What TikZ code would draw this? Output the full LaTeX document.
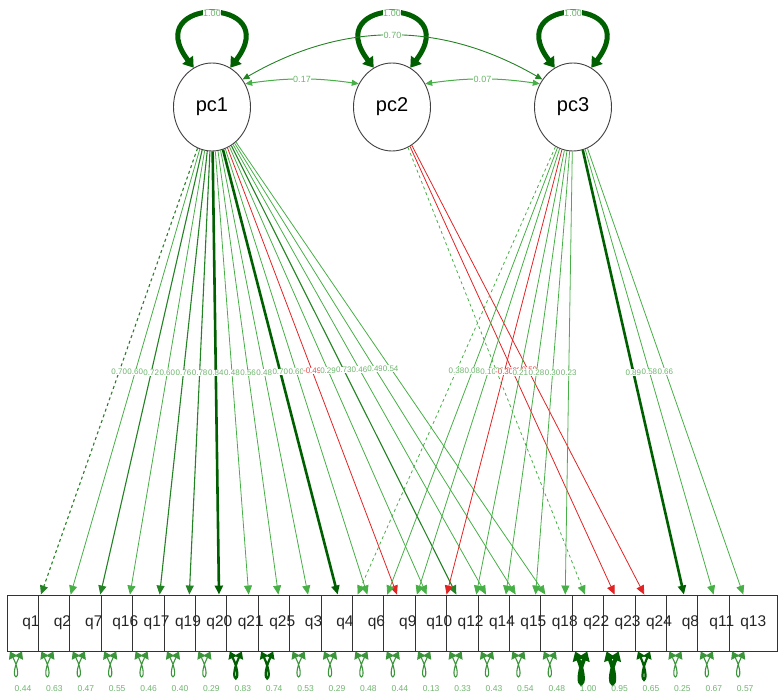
\documentclass[tikz,border=0pt]{standalone}
\usepackage{fontspec}
\setmainfont{Liberation Sans}
\usetikzlibrary{arrows.meta,shapes.geometric}
\definecolor{lgreen}{RGB}{70,175,70}
\definecolor{mgreen}{RGB}{35,130,35}
\definecolor{dgreen}{RGB}{0,95,0}
\definecolor{pgreen}{RGB}{110,180,110}
\definecolor{nred}{RGB}{225,35,35}
\tikzset{
  latent/.style={ellipse,draw=black!75,fill=white,line width=0.9pt,minimum width=77pt,minimum height=88pt,inner sep=0pt,font=\fontsize{20}{22}\selectfont},
  manifest/.style={rectangle,draw=black!80,fill=white,line width=0.9pt,minimum width=48pt,minimum height=56pt,inner sep=0pt},
  mlabel/.style={font=\fontsize{15.5}{17}\selectfont,text=black!85},
  tip/.style={-{Triangle[length=9pt,width=8pt]}},
  load/.style={tip,lgreen,line width=0.8pt},
  loadmid/.style={tip,mgreen,line width=1.1pt},
  loadbig/.style={tip,dgreen,line width=2.6pt},
  loadneg/.style={tip,nred,line width=0.8pt},
  loadfix/.style={loadmid,dashed},
  loadfixl/.style={load,dashed},
  lbl/.style={fill=white,inner sep=0.4pt,text=pgreen,font=\fontsize{8}{8}\selectfont},
  lblneg/.style={lbl,text=nred!80},
  clbl/.style={lbl,font=\fontsize{9}{9}\selectfont},
  varloop/.style={{Triangle[length=10pt,width=13pt]}-{Triangle[length=10pt,width=13pt]},dgreen,line width=5pt},
  covl/.style={{Triangle[length=7pt,width=6pt]}-{Triangle[length=7pt,width=6pt]},lgreen,line width=1pt},
  covd/.style={covl,mgreen,line width=0.9pt},
  res/.style={{Triangle[length=7pt,width=9pt]}-{Triangle[length=7pt,width=9pt]},lgreen!85!black,line width=1.1pt},
  resdk/.style={res,dgreen,line width=2.2pt},
  resbig/.style={{Triangle[length=9pt,width=12pt]}-{Triangle[length=9pt,width=12pt]},dgreen,line width=4pt},
  rlbl/.style={text=pgreen,inner sep=0pt,font=\fontsize{8.5}{9}\selectfont}
}
\begin{document}
\begin{tikzpicture}[x=1pt,y=-1pt]
\useasboundingbox (0,0) rectangle (780,700);
\node[latent] (pc1) at (212,107) {pc1};
\node[latent] (pc2) at (392,107) {pc2};
\node[latent] (pc3) at (573,107) {pc3};
\foreach \n in {pc1,pc2,pc3}
  \draw[varloop] (\n.115) .. controls +(-55,-72) and +(55,-72) .. (\n.65) node[pos=0.5,clbl]{1.00};
\draw[covl] (pc1.35) to[bend left=8] node[clbl]{0.17} (pc2.145);
\draw[covl] (pc2.35) to[bend left=8] node[clbl]{0.07} (pc3.145);
\draw[covd] (pc1.42) to[bend left=30] node[clbl]{0.70} (pc3.138);
\foreach \q [count=\i from 0] in {q1,q2,q7,q16,q17,q19,q20,q21,q25,q3,q4,q6,q9,q10,q12,q14,q15,q18,q22,q23,q24,q8,q11,q13}
  \node[manifest] (\q) at ({31+31.4*\i},623) {};
\foreach \q in {q1,q2,q7,q16,q17,q19,q20,q21,q25,q3,q4,q6,q9,q10,q12,q14,q15,q18,q22,q23,q24,q8,q11,q13}
  \node[mlabel] (\q-t) at (\q) {\q};
\foreach \f/\t/\v/\s/\l in {pc1/q1/0.70/loadfix/lbl, pc1/q2/0.60/load/lbl, pc1/q7/0.72/loadmid/lbl,
    pc1/q16/0.60/load/lbl, pc1/q17/0.76/loadmid/lbl, pc1/q19/0.78/loadmid/lbl, pc1/q20/0.84/loadbig/lbl,
    pc1/q21/0.48/load/lbl, pc1/q25/0.56/load/lbl, pc1/q3/0.48/load/lbl, pc1/q4/0.70/loadbig/lbl,
    pc1/q6/0.60/load/lbl, pc1/q9/-0.49/loadneg/lblneg, pc1/q10/0.29/load/lbl, pc1/q12/0.73/loadmid/lbl,
    pc1/q14/0.46/load/lbl, pc1/q15/0.49/load/lbl, pc1/q18/0.54/load/lbl,
    pc2/q22/0.03/loadfixl/lbl, pc2/q23/-0.25/loadneg/lblneg, pc2/q24/-0.59/loadneg/lblneg,
    pc3/q4/0.38/loadfixl/lbl, pc3/q6/0.08/load/lbl, pc3/q9/0.10/load/lbl, pc3/q10/-0.30/loadneg/lblneg,
    pc3/q12/0.21/load/lbl, pc3/q14/0.28/load/lbl, pc3/q15/0.30/load/lbl, pc3/q18/0.23/load/lbl,
    pc3/q8/0.89/loadbig/lbl, pc3/q11/0.58/load/lbl, pc3/q13/0.66/load/lbl}
  \draw[\s] (\f) -- node[\l]{\v} (\t);
\foreach \q/\v/\s/\h in {q1/0.44/res/32, q2/0.63/res/32, q7/0.47/res/32, q16/0.55/res/32, q17/0.46/res/32,
    q19/0.40/res/32, q20/0.29/res/32, q21/0.83/resdk/34, q25/0.74/resdk/34, q3/0.53/res/32, q4/0.29/res/32,
    q6/0.48/res/32, q9/0.44/res/32, q10/0.13/res/32, q12/0.33/res/32, q14/0.43/res/32, q15/0.54/res/32,
    q18/0.48/res/32, q22/1.00/resbig/40, q23/0.95/resbig/40, q24/0.65/resdk/36, q8/0.25/res/32,
    q11/0.67/res/32, q13/0.57/res/32}
  {\draw[\s] ([xshift=-21pt]\q.south) .. controls +(16,\h) and +(-16,\h) .. ([xshift=-9pt]\q.south);
   \node[rlbl] (\q-r) at ([xshift=-8pt,yshift=-37pt]\q.south) {\v};}
\end{tikzpicture}
\end{document}
